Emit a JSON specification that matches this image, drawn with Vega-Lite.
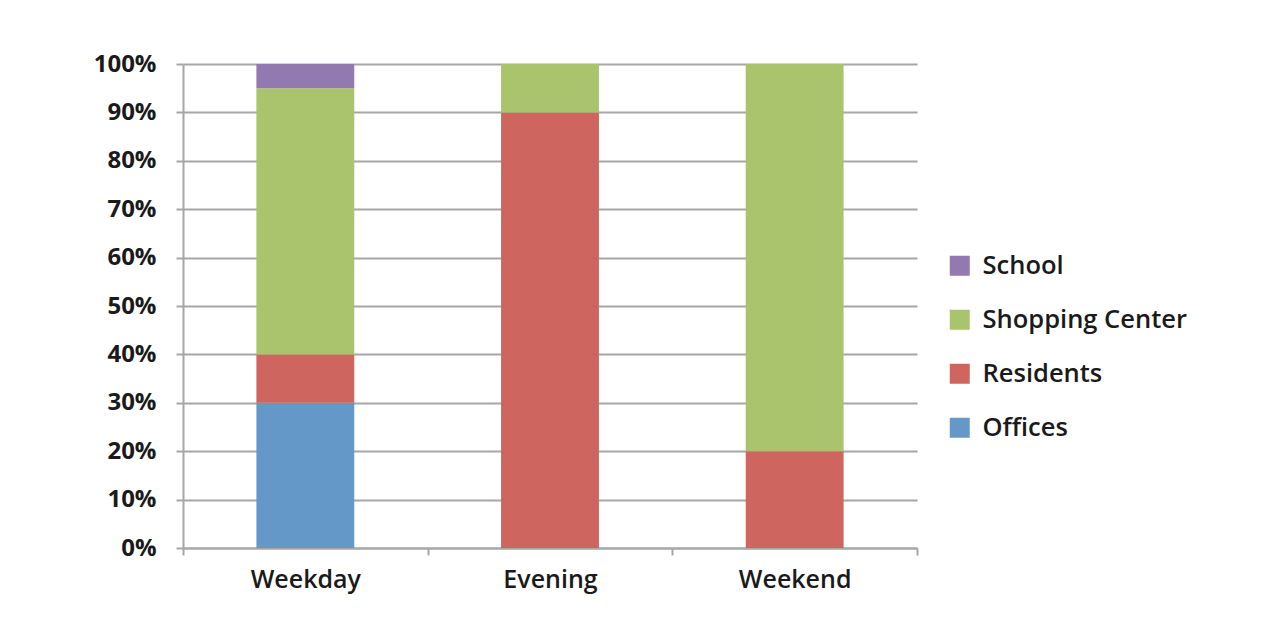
{
  "$schema": "https://vega.github.io/schema/vega-lite/v6.json",
  "width": 734,
  "height": 484,
  "autosize": "none",
  "padding": {"left": 183, "top": 64, "right": 351, "bottom": 87},
  "background": "white",
  "data": {"values": [
    {"period": "Weekday", "use": "Offices", "rank": 1, "share": 30},
    {"period": "Weekday", "use": "Residents", "rank": 2, "share": 10},
    {"period": "Weekday", "use": "Shopping Center", "rank": 3, "share": 55},
    {"period": "Weekday", "use": "School", "rank": 4, "share": 5},
    {"period": "Evening", "use": "Residents", "rank": 2, "share": 90},
    {"period": "Evening", "use": "Shopping Center", "rank": 3, "share": 10},
    {"period": "Weekend", "use": "Residents", "rank": 2, "share": 20},
    {"period": "Weekend", "use": "Shopping Center", "rank": 3, "share": 80}
  ]},
  "mark": {"type": "bar", "width": {"band": 0.4}},
  "encoding": {
    "x": {
      "field": "period", "type": "nominal", "sort": ["Weekday", "Evening", "Weekend"],
      "scale": {"paddingInner": 0, "paddingOuter": 0},
      "axis": {
        "title": null, "labelAngle": 0, "tickBand": "extent",
        "domainColor": "#a6a6a6", "domainWidth": 2, "tickColor": "#a6a6a6", "tickWidth": 2, "tickSize": 7,
        "labelFont": "Open Sans", "labelFontSize": 25, "labelFontWeight": 600, "labelColor": "#1a1a1a", "labelPadding": 12
      }
    },
    "y": {
      "field": "share", "type": "quantitative", "stack": "zero",
      "scale": {"domain": [0, 100], "nice": false},
      "axis": {
        "title": null, "values": [0,10,20,30,40,50,60,70,80,90,100], "labelExpr": "datum.value + '%'",
        "grid": true, "gridColor": "#a6a6a6", "gridWidth": 2,
        "domainColor": "#a6a6a6", "domainWidth": 2, "tickColor": "#a6a6a6", "tickWidth": 2, "tickSize": 7,
        "labelFont": "Open Sans", "labelFontSize": 24, "labelFontWeight": 700, "labelColor": "#1a1a1a", "labelPadding": 20
      }
    },
    "order": {"field": "rank", "type": "quantitative", "sort": "ascending"},
    "color": {
      "field": "use", "type": "nominal",
      "scale": {
        "domain": ["School", "Shopping Center", "Residents", "Offices"],
        "range": ["#9279af", "#a9c46c", "#ce655e", "#6398c9"]
      },
      "legend": {
        "title": null, "orient": "none", "legendX": 764, "legendY": 189,
        "symbolType": "square", "symbolSize": 400, "symbolStrokeWidth": 0, "symbolOpacity": 1,
        "labelFont": "Open Sans", "labelFontSize": 25.5, "labelFontWeight": 600, "labelColor": "#1a1a1a",
        "labelOffset": 10, "rowPadding": 27, "labelLimit": 400
      }
    }
  },
  "config": {"view": {"stroke": null}}
}
